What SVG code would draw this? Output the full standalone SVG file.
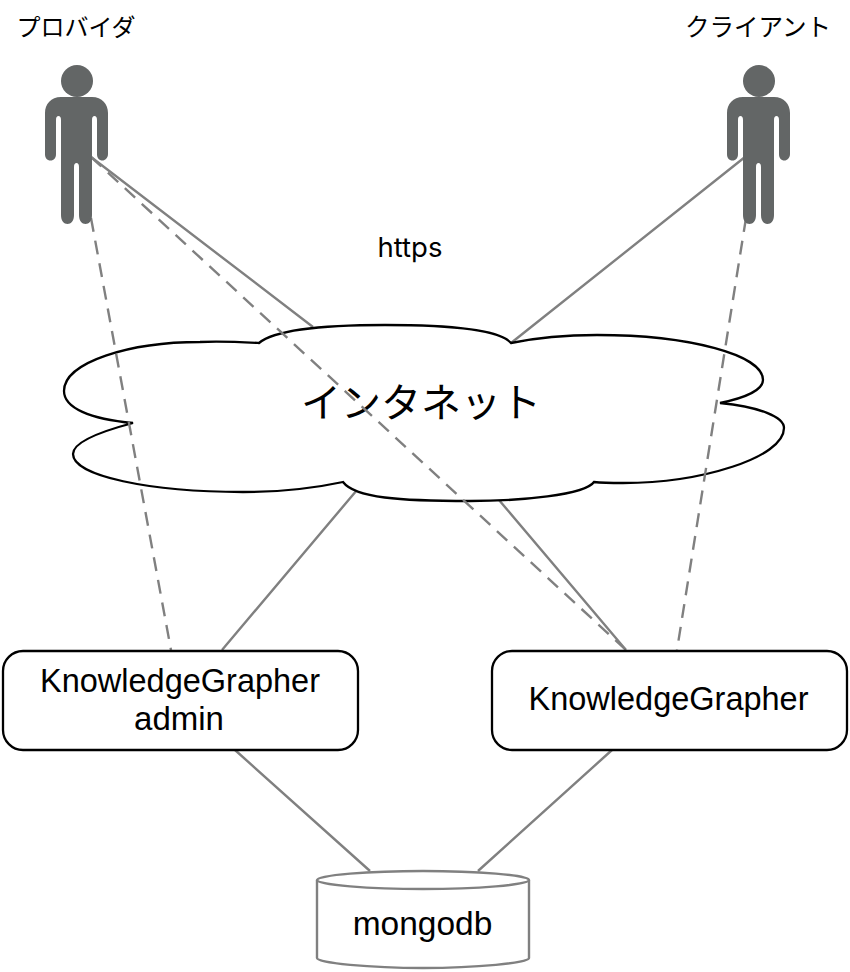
<svg xmlns="http://www.w3.org/2000/svg" width="850" height="972" viewBox="0 0 850 972">
<defs>
<style>
.t{font-family:"Liberation Sans","Noto Sans CJK JP",sans-serif;fill:#000;text-anchor:middle}
.c{stroke:#808080;stroke-width:2.4;fill:none}
.d{stroke-dasharray:14 9}
.box{fill:#fff;stroke:#000;stroke-width:2.300}
</style>
<g id="person"><circle cx="77" cy="81" r="16" fill="#636666"/><path fill="#636666" d="M61 97H92C102 97 108 104 108 113V154C108 158 105 160.500 102.500 160.500C99 160.500 97 158 97 154V120C97 117 96 116 94.500 116C93 116 92 117 92 120V215C92 221 89 224 85.500 224C82 224 79 221 79 215V167C79 164 78 163 76.500 163C75 163 74 164 74 167V215C74 221 71 224 67.500 224C64 224 61 221 61 215V120C61 117 60 116 58.500 116C57 116 56 117 56 120V154C56 158 54 160.500 50.500 160.500C47 160.500 45 158 45 154V113C45 104 51 97 61 97Z"/></g>
</defs>
<rect width="850" height="972" fill="#fff"/>
<g id="connectors-under">
<path class="c" d="M91 157L313 327M745 157L511 343M357 490L222 650M499 500L626 650M235 750L370 871M612 750L478 871"/>
</g>
<g id="cloud">
<path d="M133 423C90 419 64 408 64 391C64 362 130 342 200 342C222 341 240 342 259 343C272 332 310 325 385 325C450 325 500 330 511 343C535 338 565 335 597 335C690 335 763 355 763 380C763 390 745 398 720 403C760 407 784 417 784 428C784 458 700 483 623 483C612 483 603 483 594 482C585 495 520 501 470 501C400 501 355 498 343 482C315 488 280 492 243 492C150 492 73 476 73 454C73 443 95 433 133 423Z" fill="#fff" stroke="#000" stroke-width="2.300"/>
<text class="t" x="421" y="417" font-size="40">インタネット</text>
</g>
<g id="connectors-over">
<path class="c d" d="M91 218L171 650M746 218L677 650M91 157L626 650"/>
</g>
<g id="provider"><text class="t" x="76" y="36" font-size="24">プロバイダ</text><use href="#person"/></g>
<g id="client"><text class="t" x="758" y="36" font-size="24.500">クライアント</text><use href="#person" x="682"/></g>
<g id="https"><text class="t" x="410" y="257" font-size="27.500" style="font-family:Inter,sans-serif">https</text></g>
<g id="admin"><rect class="box" x="3" y="651" width="355" height="99" rx="20"/><text class="t" x="180" y="692" font-size="32.500">KnowledgeGrapher</text><text class="t" x="179" y="730" font-size="33">admin</text></g>
<g id="kg"><rect class="box" x="492" y="651" width="355" height="99" rx="20"/><text class="t" x="668.500" y="710" font-size="32.500">KnowledgeGrapher</text></g>
<g id="mongodb"><path d="M317 880C317 875 370 871 423 871C476 871 529 875 529 880V958C529 963 476 968 423 968C370 968 317 963 317 958Z" fill="#fff" stroke="#808080" stroke-width="2.400"/><path d="M317 880C317 885 370 889 423 889C476 889 529 885 529 880" fill="none" stroke="#808080" stroke-width="2.400"/><text class="t" x="422.500" y="935" font-size="33.500">mongodb</text></g>
</svg>
